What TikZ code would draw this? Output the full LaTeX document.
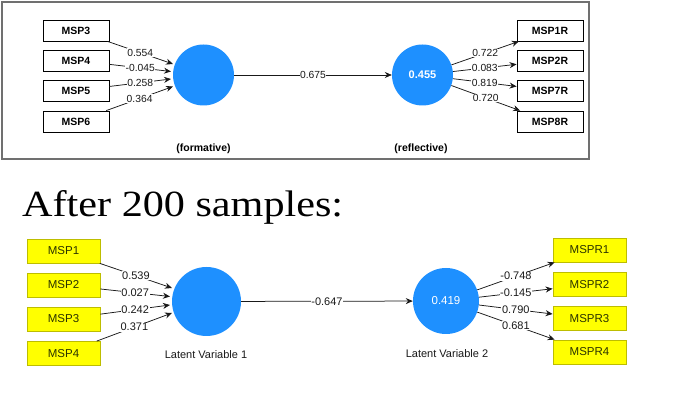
\documentclass[tikz,border=0pt]{standalone}
\usepackage{fontspec}
\setmainfont{Liberation Sans}
\newfontfamily\titlefont{Liberation Serif}
\usetikzlibrary{arrows.meta}
\definecolor{lvblue}{HTML}{1E90FF}
\definecolor{ybox}{HTML}{FFFF00}
\definecolor{yborder}{HTML}{BDBD00}
\definecolor{ytext}{HTML}{2B3300}
\definecolor{framegray}{HTML}{707070}
\begin{document}
\begin{tikzpicture}[x=1pt,y=-1pt,
  mbox/.style={draw=black, line width=0.8pt, minimum width=66pt, minimum height=21pt, inner sep=0pt, font=\fontsize{10.5}{12}\selectfont\bfseries},
  ybx/.style={draw=yborder, fill=ybox, line width=0.8pt, minimum width=73pt, minimum height=24pt, inner sep=0pt, text=ytext, font=\fontsize{11.5}{13}\selectfont},
  lv/.style={circle, fill=lvblue, inner sep=0pt, text=white},
  conn/.style={draw=black!90, line width=0.75pt},
  arr/.style={conn, -{Stealth[length=7pt,width=6pt]}},
  wlab/.style={fill=white, inner sep=0.6pt, text=black!90, font=\fontsize{10.3}{11}\selectfont},
  wlabb/.style={fill=white, inner sep=0.6pt, text=black!90, font=\fontsize{11}{12}\selectfont},
  lvcap/.style={inner sep=0pt, font=\fontsize{10.5}{12}\selectfont\bfseries},
  lvcapb/.style={inner sep=0pt, text=black!90, font=\fontsize{11}{12}\selectfont}
]
\useasboundingbox (0,0) rectangle (697,419);
\fill[white] (0,0) rectangle (697,419);

% ---------- top panel ----------
\draw[framegray, line width=1.5pt] (2,2) rectangle (589,159);

\node[mbox] (msp3) at (76,30.5) {MSP3};
\node[mbox] (msp4) at (76,60.5) {MSP4};
\node[mbox] (msp5) at (76,90.5) {MSP5};
\node[mbox] (msp6) at (76,121.5) {MSP6};

\node[lv, minimum size=61pt] (lvA) at (203.5,75) {};
\node[lv, minimum size=61pt, font=\fontsize{11}{12}\selectfont\bfseries] (lvB) at (422.5,75) {0.455};

\node[mbox] (m1r) at (550,30.5) {MSP1R};
\node[mbox] (m2r) at (550,60.5) {MSP2R};
\node[mbox] (m7r) at (550,90.5) {MSP7R};
\node[mbox] (m8r) at (550,121.5) {MSP8R};

\coordinate (ta1) at (173,64);
\coordinate (ta2) at (171,71.5);
\coordinate (ta3) at (171,79);
\coordinate (ta4) at (173,86.5);

\draw[arr] (msp3) -- node[wlab]{0.554} (ta1);
\draw[arr] (msp4) -- node[wlab]{-0.045} (ta2);
\draw[arr] (msp5) -- node[wlab]{0.258} (ta3);
\draw[arr] (msp6) -- node[wlab]{0.364} (ta4);

\draw[arr] (lvA) -- node[wlab]{0.675} (lvB);

\draw[arr] (lvB) -- node[wlab]{0.722} (m1r);
\draw[arr] (lvB) -- node[wlab]{0.083} (m2r);
\draw[arr] (lvB) -- node[wlab]{0.819} (m7r);
\draw[arr] (lvB) -- node[wlab]{0.720} (m8r);

\node[lvcap] (capA) at (203.5,149) {(formative)};
\node[lvcap] (capB) at (421,149) {(reflective)};

% ---------- title ----------
\node[anchor=base west, inner sep=0pt] (title) at (22,217)
  {\resizebox{321pt}{26pt}{\titlefont\fontsize{36}{40}\selectfont After 200 samples:}};

% ---------- bottom panel ----------
\node[ybx] (y1) at (63.5,251) {MSP1};
\node[ybx] (y2) at (63.5,285) {MSP2};
\node[ybx] (y3) at (63.5,319) {MSP3};
\node[ybx] (y4) at (63.5,353.5) {MSP4};

\node[lv, minimum size=69pt] (lvC) at (206.5,301.5) {};
\node[lv, minimum size=66pt, font=\fontsize{11.5}{13}\selectfont] (lvD) at (446,301) {0.419};

\node[ybx] (r1) at (589.5,250) {MSPR1};
\node[ybx] (r2) at (589.5,284.5) {MSPR2};
\node[ybx] (r3) at (589.5,318.5) {MSPR3};
\node[ybx] (r4) at (589.5,352) {MSPR4};

\coordinate (tc1) at (172,288);
\coordinate (tc2) at (170,296.5);
\coordinate (tc3) at (170,305);
\coordinate (tc4) at (172,313);

\draw[arr] (y1) -- node[wlabb]{0.539} (tc1);
\draw[arr] (y2) -- node[wlabb]{0.027} (tc2);
\draw[arr] (y3) -- node[wlabb]{0.242} (tc3);
\draw[arr] (y4) -- node[wlabb]{0.371} (tc4);

\draw[arr] (lvC) -- node[wlabb]{-0.647} (lvD);

\draw[arr] (lvD) -- node[wlabb]{-0.748} (r1);
\draw[arr] (lvD) -- node[wlabb]{-0.145} (r2);
\draw[arr] (lvD) -- node[wlabb]{0.790} (r3);
\draw[arr] (lvD) -- node[wlabb]{0.681} (r4);

\node[lvcapb] (capC) at (206,355) {Latent Variable 1};
\node[lvcapb] (capD) at (447,354) {Latent Variable 2};
\end{tikzpicture}
\end{document}
